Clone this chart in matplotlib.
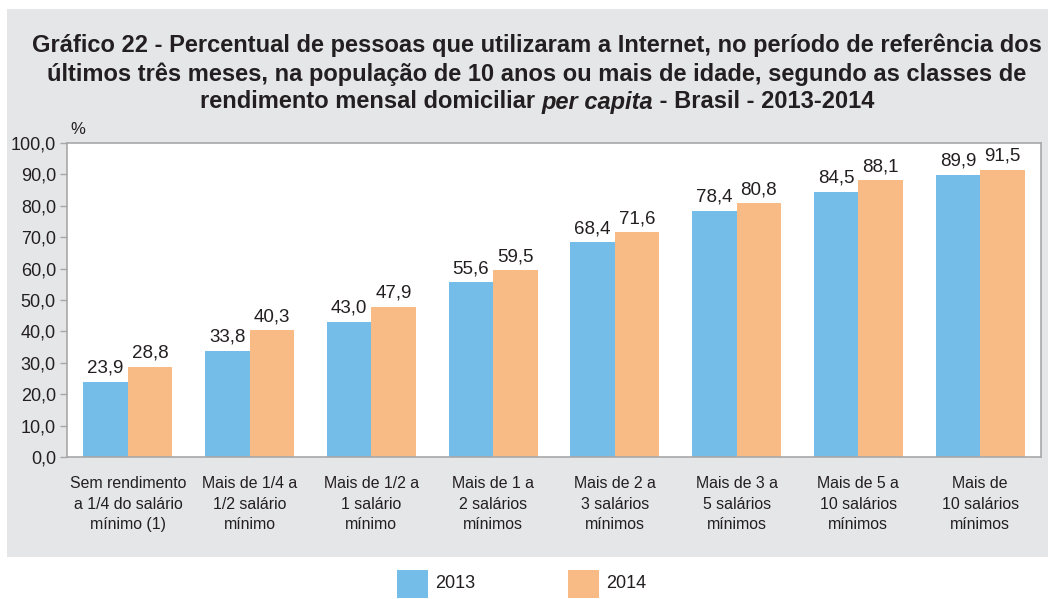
import matplotlib.pyplot as plt
import numpy as np
from matplotlib.patches import Rectangle

categories = [
    'Sem rendimento\na 1/4 do salário\nmínimo (1)',
    'Mais de 1/4 a\n1/2 salário\nmínimo',
    'Mais de 1/2 a\n1 salário\nmínimo',
    'Mais de 1 a\n2 salários\nmínimos',
    'Mais de 2 a\n3 salários\nmínimos',
    'Mais de 3 a\n5 salários\nmínimos',
    'Mais de 5 a\n10 salários\nmínimos',
    'Mais de\n10 salários\nmínimos',
]
values_2013 = [23.9, 33.8, 43.0, 55.6, 68.4, 78.4, 84.5, 89.9]
values_2014 = [28.8, 40.3, 47.9, 59.5, 71.6, 80.8, 88.1, 91.5]
yticks = np.arange(0, 101, 10)

blue = '#74BDE8'
orange = '#F9BB85'
panel = '#E5E6E8'
edge = '#A8A8A8'
txt = '#231F20'

plt.rcParams['font.family'] = ['Liberation Sans', 'DejaVu Sans']

W, H = 1056, 599
fig = plt.figure(figsize=(W / 100, H / 100), dpi=100)
fig.patches.append(Rectangle((7 / W, 1 - 557 / H), (1048 - 7) / W, (557 - 9) / H,
                             transform=fig.transFigure, facecolor=panel,
                             edgecolor='none', zorder=-5))

ax = fig.add_axes([67 / W, 1 - 457 / H, (1041 - 67) / W, (457 - 143) / H])
ax.set_zorder(2)
x = np.arange(len(categories))
w = 0.365
b1 = ax.bar(x - w / 2, values_2013, w, color=blue, label='2013')
b2 = ax.bar(x + w / 2, values_2014, w, color=orange, label='2014')

def fmt(v):
    return f'{v:.1f}'.replace('.', ',')

for bars, vals in ((b1, values_2013), (b2, values_2014)):
    for r, v in zip(bars, vals):
        ax.annotate(fmt(v), (r.get_x() + r.get_width() / 2, v), xytext=(0, 6.5),
                    textcoords='offset points', ha='center', va='baseline',
                    fontsize=13.5, color=txt)

ax.set_xlim(-0.5, len(categories) - 0.5)
ax.set_ylim(0, 100)
ax.set_yticks(yticks)
ax.set_yticklabels([fmt(t) for t in yticks], fontsize=13, color=txt)
ax.set_xticks(x)
ax.set_xticklabels(categories, fontsize=11.4, color=txt, linespacing=1.45)
ax.tick_params(axis='x', length=0, pad=14)
ax.tick_params(axis='y', length=5, color=edge, width=1, pad=3)
for s in ax.spines.values():
    s.set_color(edge)
    s.set_linewidth(1.2)

fig.text(78 / W, 1 - 130 / H, '%', fontsize=12, color=txt, ha='center', va='center')

# title
tsize = 17
fig.text(537 / W, 1 - 45 / H,
         'Gráfico 22 - Percentual de pessoas que utilizaram a Internet, no período de referência dos',
         ha='center', va='center', fontsize=tsize, fontweight='bold', color=txt)
fig.text(537 / W, 1 - 74 / H,
         'últimos três meses, na população de 10 anos ou mais de idade, segundo as classes de',
         ha='center', va='center', fontsize=tsize, fontweight='bold', color=txt)

parts = [('rendimento mensal domiciliar ', 'normal'), ('per capita', 'italic'),
         (' - Brasil - 2013-2014', 'normal')]
renderer = fig.canvas.get_renderer()
items = []
total = 0
for s, style in parts:
    t = fig.text(0, 1 - 102 / H, s, ha='left', va='center', fontsize=tsize,
                 fontweight='bold', style=style, color=txt)
    wd = t.get_window_extent(renderer).width
    items.append((t, wd))
    total += wd
xpos = 537 - total / 2
for t, wd in items:
    t.set_x(xpos / W)
    xpos += wd

# legend
leg_y = 1 - 584 / H
for lx, col, lab in ((397, blue, '2013'), (568, orange, '2014')):
    fig.patches.append(Rectangle((lx / W, 1 - 598 / H), 31 / W, 28 / H,
                                 transform=fig.transFigure, facecolor=col,
                                 edgecolor='none'))
    fig.text((lx + 38) / W, leg_y, lab, fontsize=13, color=txt, va='center')

fig.savefig('out.png', dpi=100)
